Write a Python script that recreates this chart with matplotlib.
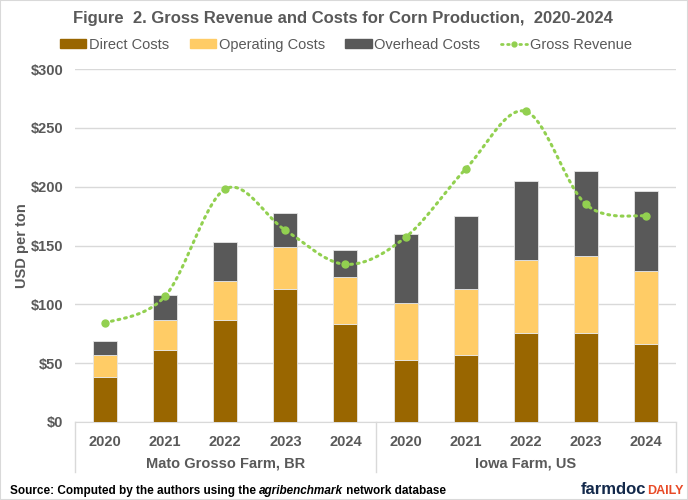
import numpy as np
import matplotlib.pyplot as plt
from matplotlib.lines import Line2D
from matplotlib.patches import Patch, Rectangle

plt.rcParams.update({
    'font.family': ['Liberation Sans', 'DejaVu Sans'],
    'font.size': 10,
})

GRAY = '#595959'
GRID = '#d9d9d9'

# values (USD per ton)
groups = ['Mato Grosso Farm, BR', 'Iowa Farm, US']
years = ['2020', '2021', '2022', '2023', '2024']
direct = [38, 61, 87, 113, 83, 53, 57, 76, 76, 66]
operating = [19, 26, 33, 36, 40, 48, 56, 62, 65, 62]
overhead = [12, 21, 33, 29, 23, 59, 62, 67, 72, 68]
revenue = [84, 107, 198, 163, 134, 157, 215, 264, 185, 175]


def smooth(x, y, n=30):
    # Excel style smoothed line: cubic bezier with catmull-rom control points
    x = np.asarray(x, float)
    y = np.asarray(y, float)
    px = np.r_[x[0], x, x[-1]]
    py = np.r_[y[0], y, y[-1]]
    xs, ys = [], []
    t = np.linspace(0, 1, n)
    for i in range(1, len(x)):
        p0 = np.array([px[i], py[i]])
        p3 = np.array([px[i + 1], py[i + 1]])
        c1 = p0 + (p3 - np.array([px[i - 1], py[i - 1]])) / 6
        c2 = p3 - (np.array([px[i + 2], py[i + 2]]) - p0) / 6
        b = ((1 - t) ** 3)[:, None] * p0 + (3 * (1 - t) ** 2 * t)[:, None] * c1 \
            + (3 * (1 - t) * t ** 2)[:, None] * c2 + (t ** 3)[:, None] * p3
        xs.extend(b[:, 0])
        ys.extend(b[:, 1])
    return np.array(xs), np.array(ys)


def text_run(fig, x0, y, pieces, align='left'):
    # draw text pieces one after another (x0 in pixels)
    r = fig.canvas.get_renderer()
    objs = []
    for s, kw in pieces:
        t = fig.text(0, y / 500, s, va='baseline', **kw)
        objs.append(t)
    widths = [t.get_window_extent(r).width for t in objs]
    if align == 'right':
        x0 = x0 - sum(widths)
    for t, w in zip(objs, widths):
        t.set_x(x0 / 688)
        x0 += w


fig = plt.figure(figsize=(6.88, 5.0), dpi=100)
fig.patches.append(Rectangle((0, 0), 1, 1, transform=fig.transFigure,
                             fill=False, edgecolor=GRID, linewidth=1.5))
ax = fig.add_axes([75 / 688, 78 / 500, 601 / 688, 353 / 500])

x = np.arange(len(direct))
bottom2 = np.array(direct) + np.array(operating)
kw = dict(width=0.4, edgecolor='#e6e6e6', linewidth=0.6, zorder=3)
ax.bar(x, direct, color='#996600', **kw)
ax.bar(x, operating, bottom=direct, color='#FFCC66', **kw)
ax.bar(x, overhead, bottom=bottom2, color=GRAY, **kw)

sx, sy = smooth(x, revenue)
ax.plot(sx, sy, color='#92D050', linewidth=2.2, linestyle=(0, (0.6, 1.6)),
        dash_capstyle='round', zorder=4)
ax.plot(x, revenue, 'o', color='#92D050', markersize=5, zorder=5)

ax.set_xlim(-0.5, len(x) - 0.5)
ax.set_ylim(0, 300)
ax.set_yticks(range(0, 301, 50))
ax.set_yticklabels([f'${v}' for v in range(0, 301, 50)])
ax.set_xticks(x)
ax.set_xticklabels(years * 2)
ax.grid(axis='y', color=GRID, linewidth=1.0, zorder=0)
for s in ['top', 'right', 'left']:
    ax.spines[s].set_visible(False)
ax.spines['bottom'].set_color(GRID)
ax.tick_params(axis='both', length=0, colors=GRAY, labelsize=10.5)
ax.tick_params(axis='x', pad=9)
ax.tick_params(axis='y', pad=8.5)
for lab in ax.get_xticklabels() + ax.get_yticklabels():
    lab.set_fontweight('bold')

# group separators and labels
for xv in [-0.5, 4.5, 9.5]:
    ax.plot([xv, xv], [0, -50 / 353 * 300], color=GRID, linewidth=1.0,
            clip_on=False)
for i, g in enumerate(groups):
    ax.text(2 + 5 * i, -41 / 353 * 300, g, ha='center', va='center',
            fontsize=10.5, fontweight='bold', color=GRAY)

ax.set_ylabel('USD per ton', fontsize=10.5, fontweight='bold', color=GRAY)
ax.yaxis.set_label_coords(-46 / 601, 0.5)

fig.text(343 / 688, 1 - 18 / 500,
         'Figure  2. Gross Revenue and Costs for Corn Production,  2020-2024',
         ha='center', va='center', fontsize=12, fontweight='bold', color=GRAY)

handles = [Patch(color='#996600'), Patch(color='#FFCC66'), Patch(color=GRAY),
           Line2D([0], [0], color='#92D050', linewidth=2, linestyle=(0, (0.6, 1.6)),
                  dash_capstyle='round', marker='o', markersize=3.5)]
labels = ['Direct Costs', 'Operating Costs', 'Overhead Costs', 'Gross Revenue']
leg = fig.legend(handles, labels, loc='center', bbox_to_anchor=(346 / 688, 1 - 45 / 500),
                 ncol=4, frameon=False, fontsize=10.5, handlelength=1.8,
                 handleheight=0.6, handletextpad=0.2, columnspacing=1.4)
for t in leg.get_texts():
    t.set_color(GRAY)

text_run(fig, 10, 6, [
    ('Source: Computed by the authors using the ', dict(fontsize=8.5, fontweight='bold')),
    ('agribenchmark', dict(fontsize=8.5, fontweight='bold', style='italic')),
    (' network database', dict(fontsize=8.5, fontweight='bold')),
])
text_run(fig, 683, 6, [
    ('farmdoc', dict(fontsize=12, fontweight='bold', color='#13294B')),
    ('DAILY', dict(fontsize=9, fontweight='bold', color='#E84A27')),
], align='right')

fig.savefig('out.png', dpi=100)
